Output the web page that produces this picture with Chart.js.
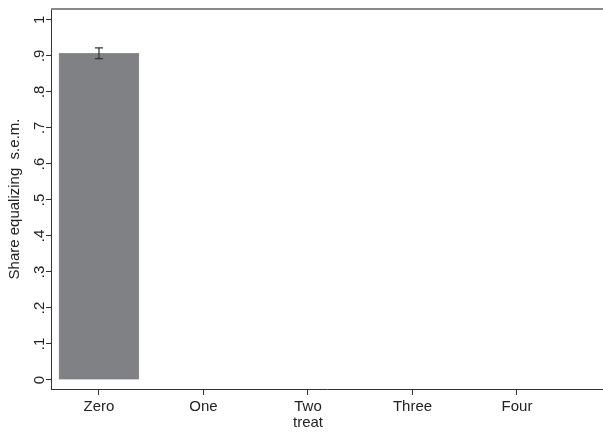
<!DOCTYPE html>
<html>
<head>
<meta charset="utf-8">
<script src="https://cdn.jsdelivr.net/npm/chart.js@4"></script>
<style>
  html, body { margin: 0; padding: 0; background: #fff; }
  #wrap { width: 603px; height: 432px; }
</style>
</head>
<body>
<div id="wrap"><canvas id="myChart"></canvas></div>
<script>
// data
const categories = ['Zero', 'One', 'Two', 'Three', 'Four'];
const share = [0.907, null, null, null, null];
const sem = [0.015, null, null, null, null];
const yTicks = [0, 0.1, 0.2, 0.3, 0.4, 0.5, 0.6, 0.7, 0.8, 0.9, 1];
const yLabels = ['0', '.1', '.2', '.3', '.4', '.5', '.6', '.7', '.8', '.9', '1'];
const xTitle = 'treat';

const font = { family: '"Liberation Sans", Arial, sans-serif', size: 15 };
const textColor = '#222';

// top frame line, error bars, x title centred under the categories
const extras = {
  id: 'extras',
  afterDatasetsDraw(chart) {
    const c = chart.ctx, a = chart.chartArea;
    const xs = chart.scales.x, ys = chart.scales.y;
    c.save();
    c.strokeStyle = '#8a8a8a';
    c.lineWidth = 2;
    c.beginPath();
    c.moveTo(a.left, a.top);
    c.lineTo(a.right, a.top);
    c.stroke();

    c.strokeStyle = '#333';
    c.lineWidth = 1.2;
    share.forEach((v, i) => {
      if (v == null) return;
      const x = xs.getPixelForValue(i);
      const y1 = ys.getPixelForValue(v + sem[i]);
      const y2 = ys.getPixelForValue(v - sem[i]);
      c.beginPath();
      c.moveTo(x, y1); c.lineTo(x, y2);
      c.moveTo(x - 4, y1); c.lineTo(x + 4, y1);
      c.moveTo(x - 4, y2); c.lineTo(x + 4, y2);
      c.stroke();
    });

    c.fillStyle = textColor;
    c.font = font.size + 'px ' + font.family;
    c.textAlign = 'center';
    c.textBaseline = 'middle';
    c.fillText(xTitle, xs.getPixelForValue((categories.length - 1) / 2), xs.bottom - 9);
    c.restore();
  }
};

const ctx = document.getElementById('myChart');
const myChart = new Chart(ctx, {
  type: 'bar',
  data: {
    datasets: [{
      data: categories.map((c, i) => ({ x: i, y: share[i] })),
      backgroundColor: '#808184',
      borderColor: '#8e8e8e',
      borderWidth: 1,
      barThickness: 80
    }]
  },
  options: {
    responsive: true,
    maintainAspectRatio: false,
    animation: false,
    layout: { padding: { top: 8, right: 0, left: 0, bottom: 0 } },
    plugins: { legend: { display: false }, tooltip: { enabled: false } },
    scales: {
      x: {
        type: 'linear',
        offset: false,
        min: -0.459,
        max: 4.823,
        afterBuildTicks: (s) => { s.ticks = categories.map((c, i) => ({ value: i })); },
        afterFit: (s) => { s.height = 43; },
        ticks: {
          callback: (v) => categories[v],
          font: font,
          color: textColor,
          padding: 3,
          maxRotation: 0
        },
        grid: { offset: false, drawOnChartArea: false, tickLength: 6, color: '#333' },
        border: { color: '#333', width: 1 }
      },
      y: {
        min: -0.025,
        max: 1.03,
        afterBuildTicks: (s) => { s.ticks = yTicks.map(v => ({ value: v })); },
        afterFit: (s) => { s.width = 51; },
        ticks: {
          callback: (v) => yLabels[yTicks.indexOf(v)],
          font: font,
          color: textColor,
          padding: 0,
          minRotation: 90,
          maxRotation: 90,
          crossAlign: 'center'
        },
        grid: { drawOnChartArea: false, tickLength: 5, color: '#333' },
        border: { color: '#333', width: 1 },
        title: { display: true, text: 'Share equalizing  s.e.m.', font: font, color: textColor, padding: { top: 6, bottom: 0 } }
      }
    }
  },
  plugins: [extras]
});
</script>
</body>
</html>
